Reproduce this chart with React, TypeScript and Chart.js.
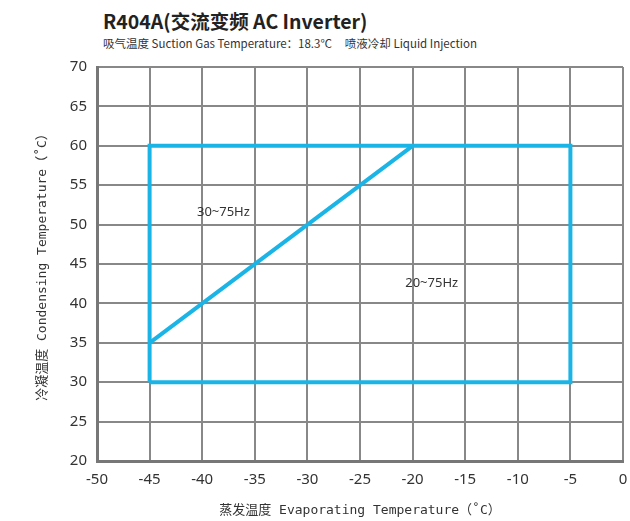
import React, { useEffect, useRef } from "react";
import { Chart, registerables } from "chart.js";

Chart.register(...registerables);

const envelopeX = [-45, -45, -5, -5, -45];
const envelopeY = [30, 60, 60, 30, 30];
const diagonalX = [-45, -20];
const diagonalY = [35, 60];
const regionLabels = ["30~75Hz", "20~75Hz"];
const regionLabelX = [-40.5, -20.7];
const regionLabelY = [51.5, 42.5];

const titleText = "R404A(交流变频 AC Inverter)";
const subtitleText = "吸气温度 Suction Gas Temperature：18.3℃     喷液冷却 Liquid Injection";
const xTitle = "蒸发温度 Evaporating Temperature（˚C）";
const yTitle = "冷凝温度 Condensing Temperature（˚C）";

const BLUE = "#1ab4e6";
const GRID = "#888888";

const labelPlugin = {
  id: "regionLabels",
  afterDatasetsDraw(chart: any) {
    const { ctx, scales } = chart;
    ctx.save();
    ctx.font = '13px "Noto Sans", sans-serif';
    ctx.fillStyle = "#333";
    ctx.textAlign = "left";
    ctx.textBaseline = "middle";
    regionLabels.forEach((t, i) => {
      ctx.fillText(t, scales.x.getPixelForValue(regionLabelX[i]), scales.y.getPixelForValue(regionLabelY[i]));
    });
    ctx.restore();
  },
};

export default function App() {
  const ref = useRef<HTMLCanvasElement>(null);
  useEffect(() => {
    if (!ref.current) return;
    const chart = new Chart(ref.current, {
      type: "scatter",
      data: {
        datasets: [
          {
            data: envelopeX.map((x, i) => ({ x, y: envelopeY[i] })),
            showLine: true,
            borderColor: BLUE,
            borderWidth: 4,
            pointRadius: 0,
            fill: false,
          },
          {
            data: diagonalX.map((x, i) => ({ x, y: diagonalY[i] })),
            showLine: true,
            borderColor: BLUE,
            borderWidth: 4,
            pointRadius: 0,
            fill: false,
          },
        ],
      },
      options: {
        animation: false,
        responsive: false,
        layout: { padding: { left: 0, top: 67, right: 7, bottom: 0 } },
        plugins: {
          legend: { display: false },
          tooltip: { enabled: false },
        },
        scales: {
          x: {
            type: "linear",
            min: -50,
            max: 0,
            afterFit: (s: any) => {
              s.height = 60;
              s.paddingLeft = 0;
              s.paddingRight = 0;
            },
            ticks: {
              stepSize: 5,
              padding: 10,
              color: "#333",
              font: { family: '"Noto Sans", sans-serif', size: 15 },
            },
            grid: { color: GRID, lineWidth: 2, drawTicks: false },
            border: { color: "#777", width: 3 },
            title: {
              display: true,
              text: xTitle,
              color: "#333",
              font: { family: '"DejaVu Sans Mono", "Noto Sans CJK SC", monospace', size: 13 },
              padding: { top: 0, bottom: 3 },
            },
          },
          y: {
            type: "linear",
            min: 20,
            max: 70,
            afterFit: (s: any) => {
              s.width = 97;
              s.paddingTop = 0;
              s.paddingBottom = 0;
            },
            ticks: {
              stepSize: 5,
              padding: 10,
              color: "#333",
              font: { family: '"Noto Sans", sans-serif', size: 15 },
            },
            grid: { color: GRID, lineWidth: 2, drawTicks: false },
            border: { color: "#777", width: 3 },
            title: {
              display: true,
              text: yTitle,
              color: "#333",
              font: { family: '"DejaVu Sans Mono", "Noto Sans CJK SC", monospace', size: 13 },
              padding: { top: 35, bottom: 0 },
            },
          },
        },
      },
      plugins: [labelPlugin],
    });
    return () => chart.destroy();
  }, []);

  return (
    <div style={{ position: "fixed", left: 0, top: 0, width: 630, height: 521, background: "#fff" }}>
      <div
        style={{
          position: "absolute",
          left: 103,
          top: 9,
          fontFamily: '"Noto Sans CJK SC", "Noto Sans", sans-serif',
          fontWeight: 700,
          fontSize: 19.5,
          color: "#222",
          whiteSpace: "nowrap",
          lineHeight: "24px",
        }}
      >
        {titleText}
      </div>
      <div
        style={{
          position: "absolute",
          left: 103,
          top: 35,
          fontFamily: '"Noto Sans CJK SC", "Noto Sans", sans-serif',
          fontSize: 11.5,
          color: "#333",
          whiteSpace: "pre",
          lineHeight: "16px",
        }}
      >
        {subtitleText}
      </div>
      <canvas ref={ref} width={630} height={521} style={{ position: "absolute", left: 0, top: 0 }} />
    </div>
  );
}
